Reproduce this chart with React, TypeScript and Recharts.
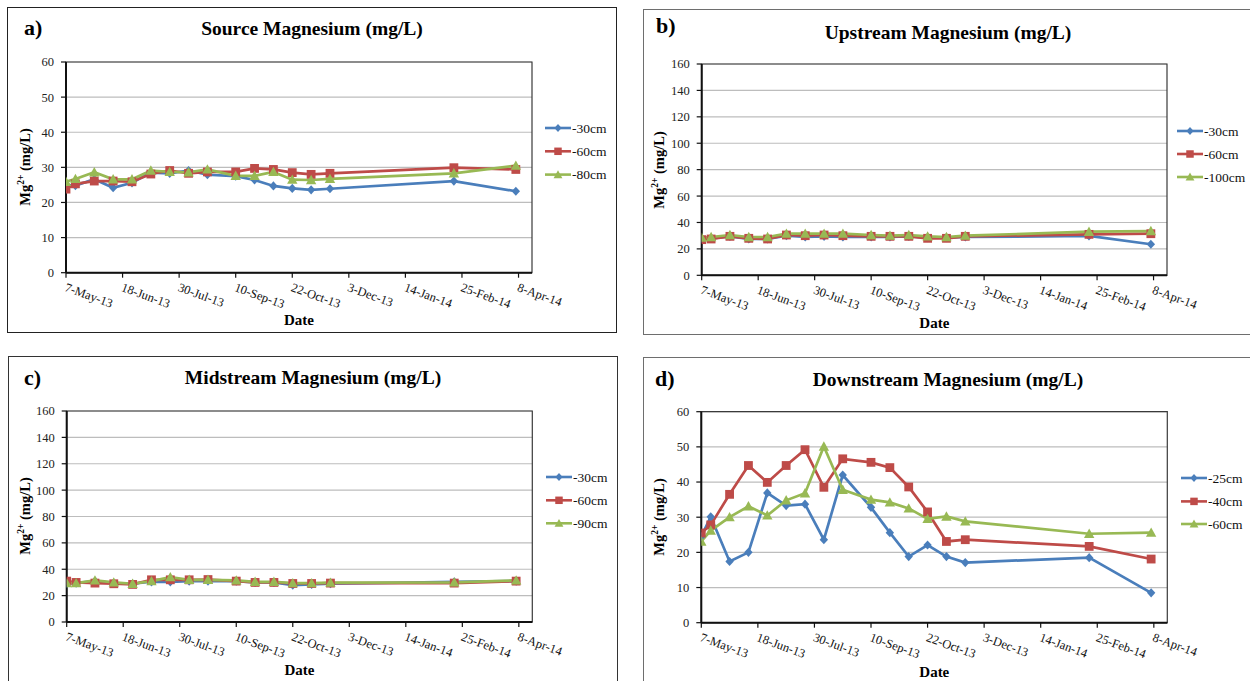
import React from 'react';
import { LineChart, Line, XAxis, YAxis, CartesianGrid, ReferenceArea } from 'recharts';

// ---------- data ----------
const sampleDates = [
  '2013-05-07', '2013-05-14', '2013-05-28', '2013-06-11', '2013-06-25', '2013-07-09',
  '2013-07-23', '2013-08-06', '2013-08-20', '2013-09-10', '2013-09-24', '2013-10-08',
  '2013-10-22', '2013-11-05', '2013-11-19', '2014-02-19', '2014-04-06',
];
const tickDates = [
  '2013-05-07', '2013-06-18', '2013-07-30', '2013-09-10', '2013-10-22',
  '2013-12-03', '2014-01-14', '2014-02-25', '2014-04-08',
];
const tickLabels = [
  '7-May-13', '18-Jun-13', '30-Jul-13', '10-Sep-13', '22-Oct-13',
  '3-Dec-13', '14-Jan-14', '25-Feb-14', '8-Apr-14',
];
const axisStartDate = '2013-05-07';
const axisEndDate = '2014-04-18';

// a) Source
const sourceNames = ['-30cm', '-60cm', '-80cm'];
const source30 = [25.0, 24.8, 26.6, 24.2, 25.6, 28.5, 28.3, 29.1, 27.9, 27.5, 26.4, 24.7, 24.0, 23.6, 23.9, 26.1, 23.2];
const source60 = [23.8, 25.3, 26.1, 26.1, 25.9, 28.1, 29.1, 28.3, 28.7, 28.7, 29.7, 29.4, 28.5, 28.0, 28.3, 29.9, 29.4];
const source80 = [25.9, 26.7, 28.6, 26.6, 26.6, 29.1, 28.7, 28.6, 29.4, 27.6, 27.6, 28.7, 26.5, 26.4, 26.7, 28.3, 30.5];

// b) Upstream
const upNames = ['-30cm', '-60cm', '-100cm'];
const up30 = [27.5, 28.0, 29.5, 27.5, 27.5, 30.0, 29.0, 29.5, 29.0, 29.0, 29.0, 29.5, 28.5, 28.5, 29.0, 29.8, 23.5];
const up60 = [27.0, 27.5, 29.5, 28.0, 27.5, 30.5, 30.0, 30.5, 30.0, 29.5, 29.5, 29.5, 28.0, 28.0, 29.5, 31.0, 31.5];
const up100 = [28.5, 29.0, 30.5, 29.0, 29.0, 31.5, 31.5, 31.5, 31.5, 30.5, 30.0, 30.5, 29.5, 29.0, 30.0, 33.0, 33.5];

// c) Midstream
const midNames = ['-30cm', '-60cm', '-90cm'];
const mid30 = [29.0, 29.5, 31.0, 29.5, 29.0, 30.5, 30.5, 31.0, 31.0, 31.0, 30.0, 30.0, 28.0, 28.5, 29.0, 30.5, 31.0];
const mid60 = [31.0, 30.0, 29.5, 29.0, 28.5, 32.0, 32.0, 32.0, 32.2, 31.0, 30.0, 30.0, 29.2, 29.2, 29.5, 29.5, 31.0];
const mid90 = [29.5, 29.5, 31.5, 30.0, 29.0, 31.0, 34.0, 32.0, 32.0, 31.5, 30.5, 30.5, 29.5, 29.5, 29.8, 30.0, 31.5];

// d) Downstream
const downNames = ['-25cm', '-40cm', '-60cm'];
const down25 = [24.5, 30.1, 17.4, 20.0, 36.9, 33.3, 33.7, 23.6, 42.0, 32.8, 25.6, 18.8, 22.1, 18.8, 17.1, 18.5, 8.5];
const down40 = [25.5, 27.8, 36.5, 44.7, 39.9, 44.7, 49.2, 38.5, 46.6, 45.6, 44.1, 38.6, 31.5, 23.1, 23.6, 21.7, 18.1];
const down60 = [23.1, 26.2, 30.0, 33.1, 30.5, 34.8, 36.8, 50.1, 37.8, 35.0, 34.2, 32.5, 29.5, 30.2, 28.8, 25.3, 25.6];

const ticks60 = [0, 10, 20, 30, 40, 50, 60];
const ticks160 = [0, 20, 40, 60, 80, 100, 120, 140, 160];

// ---------- helpers ----------
const DAY = 86400000;
const dayOf = (s: string) => (Date.parse(s) - Date.parse(axisStartDate)) / DAY;
const sampleDays = sampleDates.map(dayOf);
const tickDays = tickDates.map(dayOf);
const endDay = dayOf(axisEndDate);

const COLORS = ['#4A7EBB', '#BE4B48', '#98B954'];
const SHAPES = ['diamond', 'square', 'triangle'];
const FONT = "Liberation Serif";

function Marker({ cx, cy, shape, color, scale = 1 }: any) {
  if (cx == null || cy == null) return null;
  if (shape === 'diamond') {
    const w = 4.2 * scale, h = 4.6 * scale;
    return <polygon points={`${cx},${cy - h} ${cx + w},${cy} ${cx},${cy + h} ${cx - w},${cy}`} fill={color} />;
  }
  if (shape === 'square') {
    const s = 4.4 * scale;
    return <rect x={cx - s} y={cy - s} width={2 * s} height={2 * s} fill={color} />;
  }
  const s = 5.2 * scale;
  return <polygon points={`${cx},${cy - s} ${cx + s},${cy + s * 0.8} ${cx - s},${cy + s * 0.8}`} fill={color} />;
}

const DateTick = ({ x, y, payload }: any) => {
  const i = tickDays.indexOf(payload.value);
  const tx = x - 2;
  const ty = y + 11;
  return (
    <text x={tx} y={ty} transform={`rotate(20, ${tx}, ${ty})`} fontSize={12.5} fontFamily={FONT} style={{ fontFamily: FONT }} fill="#111" textAnchor="start">
      {i >= 0 ? tickLabels[i] : ''}
    </text>
  );
};

type Box = { left: number; top: number; width: number; height: number };
type Plot = { left: number; top: number; right: number; bottom: number };

function Panel(props: {
  letter: string; title: string; box: Box; plot: Plot; border: string; borderWidth: number;
  yMax: number; yTicks: number[]; names: string[]; series: number[][];
  titleY: number; letterX: number; letterY: number; yLabelX: number; dateY: number;
  legendX: number; legendYs: number[];
}) {
  const { box, plot } = props;
  const yw = 50;
  const margin = {
    top: plot.top - box.top,
    left: plot.left - box.left - yw,
    right: box.left + box.width - plot.right,
    bottom: 0,
  };
  const xh = box.top + box.height - plot.bottom;
  const data = sampleDays.map((d, i) => {
    const o: any = { d };
    props.series.forEach((s, k) => (o['s' + k] = s[i]));
    return o;
  });
  const plotCx = (plot.left + plot.right) / 2;
  const plotCy = (plot.top + plot.bottom) / 2;
  return (
    <>
      <div style={{ position: 'absolute', left: box.left, top: box.top, width: box.width, height: box.height, boxSizing: 'border-box', border: `${props.borderWidth}px solid ${props.border}` }} />
      <div style={{ position: 'absolute', left: box.left, top: box.top, fontFamily: FONT }}>
        <LineChart width={box.width} height={box.height} data={data} margin={margin} style={{ fontFamily: FONT }}>
          <CartesianGrid horizontal vertical={false} stroke="#BDBDBD" strokeWidth={1.2} />
          <ReferenceArea x1={0} x2={endDay} y1={0} y2={props.yMax} fill="none" stroke="#3A3A3A" strokeWidth={1.2} ifOverflow="visible" />
          <XAxis
            dataKey="d" type="number" domain={[0, endDay]} ticks={tickDays} interval={0}
            height={xh} tick={<DateTick />} tickSize={5} tickMargin={2}
            axisLine={{ stroke: '#111', strokeWidth: 2 }} tickLine={{ stroke: '#111', strokeWidth: 1.2 }}
            allowDataOverflow
          />
          <YAxis
            type="number" domain={[0, props.yMax]} ticks={props.yTicks} interval={0} width={yw}
            tickSize={5} tickMargin={7}
            tick={{ fontSize: 12.5, fontFamily: FONT, fill: '#222' }}
            axisLine={{ stroke: '#111', strokeWidth: 2 }} tickLine={{ stroke: '#111', strokeWidth: 1.2 }}
          />
          {props.series.map((_, k) => (
            <Line
              key={k} dataKey={'s' + k} name={props.names[k]} stroke={COLORS[k]} strokeWidth={2.7}
              isAnimationActive={false}
              dot={(p: any) => <Marker key={`m${k}-${p.index}`} cx={p.cx} cy={p.cy} shape={SHAPES[k]} color={COLORS[k]} />}
              activeDot={false}
            />
          ))}
        </LineChart>
      </div>
      {/* panel letter */}
      <div style={{ position: 'absolute', left: props.letterX, top: props.letterY - 13, lineHeight: '26px', fontSize: 22, fontWeight: 'bold', fontFamily: FONT, color: '#000' }}>{props.letter}</div>
      {/* title */}
      <div style={{ position: 'absolute', left: box.left, width: box.width, top: props.titleY - 12, lineHeight: '24px', textAlign: 'center', fontSize: 19.5, fontWeight: 'bold', fontFamily: FONT, color: '#000', whiteSpace: 'nowrap' }}>{props.title}</div>
      {/* y label */}
      <div style={{ position: 'absolute', left: props.yLabelX, top: plotCy, transform: 'translate(-50%, -50%) rotate(-90deg)', fontSize: 14.5, fontWeight: 'bold', fontFamily: FONT, whiteSpace: 'nowrap', lineHeight: '18px', color: '#000' }}>
        Mg<sup style={{ fontSize: 9.5, verticalAlign: 'super', lineHeight: 0 }}>2+</sup> (mg/L)
      </div>
      {/* x label */}
      <div style={{ position: 'absolute', left: plotCx, top: props.dateY, transform: 'translate(-50%, -50%)', fontSize: 15, fontWeight: 'bold', fontFamily: FONT, whiteSpace: 'nowrap', lineHeight: '18px', color: '#000' }}>Date</div>
      {/* legend */}
      <svg style={{ position: 'absolute', left: props.legendX, top: props.legendYs[0] - 12, overflow: 'visible', fontFamily: FONT }} width={80} height={props.legendYs[2] - props.legendYs[0] + 24}>
        {props.names.map((n, k) => {
          const y = props.legendYs[k] - props.legendYs[0] + 12;
          return (
            <g key={n}>
              <line x1={0} x2={26} y1={y} y2={y} stroke={COLORS[k]} strokeWidth={2.6} />
              <Marker cx={13} cy={y} shape={SHAPES[k]} color={COLORS[k]} scale={0.85} />
              <text x={27} y={y + 4.5} fontSize={13.5} fontFamily={FONT} fill="#111">{n}</text>
            </g>
          );
        })}
      </svg>
    </>
  );
}

export default function App() {
  return (
    <div style={{ position: 'absolute', left: 0, top: 0, width: 1250, height: 681, overflow: 'hidden', background: '#fff', fontFamily: FONT }}>
      <Panel
        letter="a)" title="Source Magnesium (mg/L)"
        box={{ left: 7, top: 7, width: 610, height: 326 }}
        plot={{ left: 66, top: 62, right: 532, bottom: 272.7 }}
        border="#222" borderWidth={1.3}
        yMax={60} yTicks={ticks60} names={sourceNames} series={[source30, source60, source80]}
        titleY={29.3} letterX={24} letterY={27.5} yLabelX={25} dateY={320}
        legendX={545} legendYs={[127.7, 151, 174.3]}
      />
      <Panel
        letter="b)" title="Upstream Magnesium (mg/L)"
        box={{ left: 643, top: 9, width: 610, height: 326 }}
        plot={{ left: 701.7, top: 64, right: 1167, bottom: 275.3 }}
        border="#6E6E6E" borderWidth={1.6}
        yMax={160} yTicks={ticks160} names={upNames} series={[up30, up60, up100]}
        titleY={32.7} letterX={656} letterY={26} yLabelX={659.3} dateY={323.3}
        legendX={1177} legendYs={[130.7, 153.7, 176.7]}
      />
      <Panel
        letter="c)" title="Midstream Magnesium (mg/L)"
        box={{ left: 8, top: 355.7, width: 610, height: 340 }}
        plot={{ left: 66.7, top: 410.7, right: 532.3, bottom: 621.7 }}
        border="#333" borderWidth={1.4}
        yMax={160} yTicks={ticks160} names={midNames} series={[mid30, mid60, mid90]}
        titleY={378.3} letterX={24} letterY={377.7} yLabelX={25} dateY={670}
        legendX={546} legendYs={[476.7, 500, 523]}
      />
      <Panel
        letter="d)" title="Downstream Magnesium (mg/L)"
        box={{ left: 643, top: 357, width: 610, height: 340 }}
        plot={{ left: 701.3, top: 411.7, right: 1167.3, bottom: 622.7 }}
        border="#6E6E6E" borderWidth={1.6}
        yMax={60} yTicks={ticks60} names={downNames} series={[down25, down40, down60]}
        titleY={380} letterX={655} letterY={379} yLabelX={659.3} dateY={671.7}
        legendX={1180.7} legendYs={[478.3, 501.7, 524.3]}
      />
    </div>
  );
}
